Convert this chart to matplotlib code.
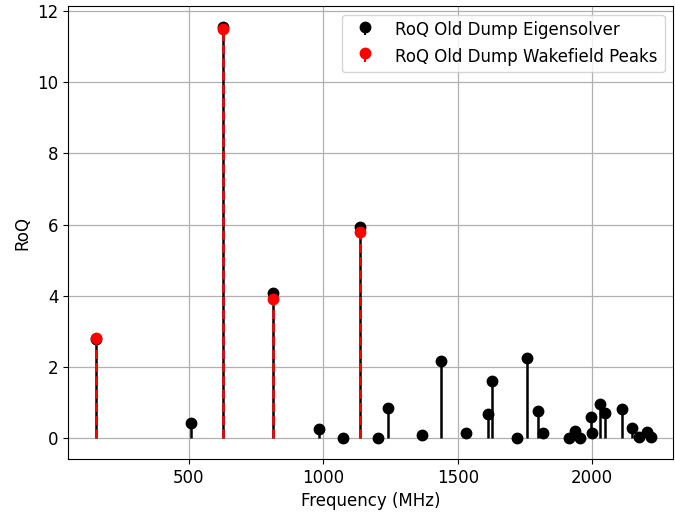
import numpy as np
import matplotlib
matplotlib.use("Agg")
import matplotlib.pyplot as plt

# eigensolver modes (MHz, RoQ)
eig_freq = [156, 510, 627, 812, 983, 1073, 1136, 1203, 1240, 1368, 1436,
            1531, 1614, 1628, 1719, 1757, 1799, 1817, 1912, 1934, 1954,
            1995, 1998, 2028, 2049, 2109, 2146, 2175, 2203, 2219]
eig_roq = [2.78, 0.42, 11.55, 4.08, 0.25, 0.02, 5.92, 0.02, 0.86, 0.08, 2.16,
           0.15, 0.69, 1.62, 0.02, 2.25, 0.76, 0.15, 0.02, 0.21, 0.0,
           0.61, 0.15, 0.97, 0.72, 0.82, 0.29, 0.03, 0.17, 0.03]

# peaks picked from the wakefield impedance
wake_freq = [156, 627, 812, 1136]
wake_roq = [2.81, 11.5, 3.92, 5.80]

fig = plt.figure(figsize=(6.75, 5.15), dpi=100)
ax = fig.add_axes([0.101, 0.109, 0.896, 0.879])

s1 = ax.stem(eig_freq, eig_roq, linefmt='k-', markerfmt='ko', basefmt=' ',
             label='RoQ Old Dump Eigensolver')
s2 = ax.stem(wake_freq, wake_roq, linefmt='r--', markerfmt='ro', basefmt=' ',
             label='RoQ Old Dump Wakefield Peaks')
for s in (s1, s2):
    s.markerline.set_markersize(7.5)
    s.stemlines.set_linewidth(1.8)

ax.set_xlim(52, 2300)
ax.set_xticks([500, 1000, 1500, 2000])
ax.set_yticks(np.arange(0, 13, 2))
ax.grid(True, color='#b0b0b0', linewidth=0.9)
ax.set_axisbelow(True)
ax.tick_params(labelsize=12)
ax.set_xlabel('Frequency (MHz)', fontsize=12)
ax.set_ylabel('RoQ', fontsize=12)
ax.legend(loc='upper right', fontsize=12)

fig.savefig('out.png', dpi=100)
